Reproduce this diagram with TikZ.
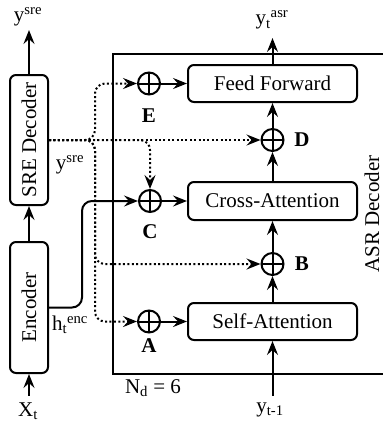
\documentclass[tikz,border=0pt]{standalone}
\usepackage{fontspec}
\setmainfont{Liberation Serif}
\usetikzlibrary{positioning, arrows.meta}

\begin{document}
\begin{tikzpicture}[x=1pt, y=-1pt, line width=2pt,
    >={Stealth[length=14pt, width=11pt, inset=5pt]}]
  \tikzstyle{block}=[draw, rectangle, rounded corners=6pt, minimum width=169pt, minimum height=37pt, inner sep=0pt, font=\fontsize{21}{25}\selectfont]
  \tikzstyle{vblock}=[block, rotate=90, minimum width=130pt, minimum height=38pt]
  \tikzstyle{plus}=[draw, circle, minimum size=22pt, inner sep=0pt,
    path picture={\draw (path picture bounding box.north) -- (path picture bounding box.south)
      (path picture bounding box.west) -- (path picture bounding box.east);}]
  \tikzstyle{txt}=[inner sep=0pt, font=\fontsize{21}{25}\selectfont]
  \tikzstyle{tag}=[inner sep=0pt, font=\fontsize{21}{25}\selectfont\bfseries]
  \tikzstyle{side}=[dash pattern=on 2pt off 2.4pt, rounded corners=10pt]
  \useasboundingbox (0,0) rectangle (383,426);

  % left column
  \node (sre) at (29, 140) [vblock] {SRE Decoder};
  \node (enc) at (29, 307.5) [vblock, minimum width=131pt] {Encoder};
  \node (ysretop) at (28, 17) [txt] {y\textsuperscript{sre}};
  \node (xt) at (28, 411) [txt] {X\textsubscript{t}};
  \draw[->] (enc.east) -- (sre.west);
  \draw[->] (sre.east) -- ++(0, -44);
  \draw[<-] (enc.west) -- ++(0, 22);

  % ASR decoder frame
  \draw (395, 54) -| (113, 374) -- (395, 374);
  \node (asrlbl) at (372, 214) [txt, rotate=90] {ASR Decoder};
  \node (nd) at (153, 388) [txt] {N\textsubscript{d} = 6};

  % decoder blocks
  \node (ff) at (272.5, 83.5) [block] {Feed Forward};
  \node (ca) at (272.5, 201) [block, minimum height=38pt] {Cross-Attention};
  \node (sa) at (272.5, 321.5) [block] {Self-Attention};

  % fusion points
  \node (E) at (149, 83.5) [plus] {};
  \node (C) at (150, 201) [plus] {};
  \node (A) at (149, 321.5) [plus] {};
  \node (D) at (272.5, 140) [plus] {};
  \node (B) at (272.5, 264) [plus] {};
  \node at (149, 116) [tag] {E};
  \node at (150, 232) [tag] {C};
  \node at (149, 346) [tag] {A};
  \node at (302, 140) [tag] {D};
  \node at (302, 264) [tag] {B};

  % main stack
  \draw[->] (E) -- (ff);
  \draw[->] (C) -- (ca);
  \draw[->] (A) -- (sa);
  \draw[->] (sa) -- (B);
  \draw[->] (B) -- (ca);
  \draw[->] (ca) -- (D);
  \draw[->] (D) -- (ff);
  \draw[->] (ff.north) -- ++(0, -26);
  \draw[<-] (sa.south) -- ++(0, 55);
  \node (yasr) at (272, 20) [txt] {y\textsubscript{t}\textsuperscript{asr}};
  \node (yprev) at (270, 410) [txt] {y\textsubscript{t-1}};

  % encoder output
  \coordinate (encbus) at (82, 0);
  \draw[->, rounded corners=10pt] (enc.south) -| (encbus |- C) -- (C);
  \node (henc) at (70, 325) [txt] {h\textsubscript{t}\textsuperscript{enc}};

  % sre output to fusion points
  \coordinate (dotbus) at (95, 0);
  \draw[->, side] (sre.south) -- (D);
  \draw[->, side] (sre.south) -| (dotbus |- E) -- (E);
  \draw[->, side] (sre.south) -| (C);
  \draw[->, side] (sre.south) -| (dotbus |- B) -- (B);
  \draw[->, side] (sre.south) -| (dotbus |- A) -- (A);
  \node (ysre) at (70, 165) [txt] {y\textsuperscript{sre}};
\end{tikzpicture}
\end{document}
